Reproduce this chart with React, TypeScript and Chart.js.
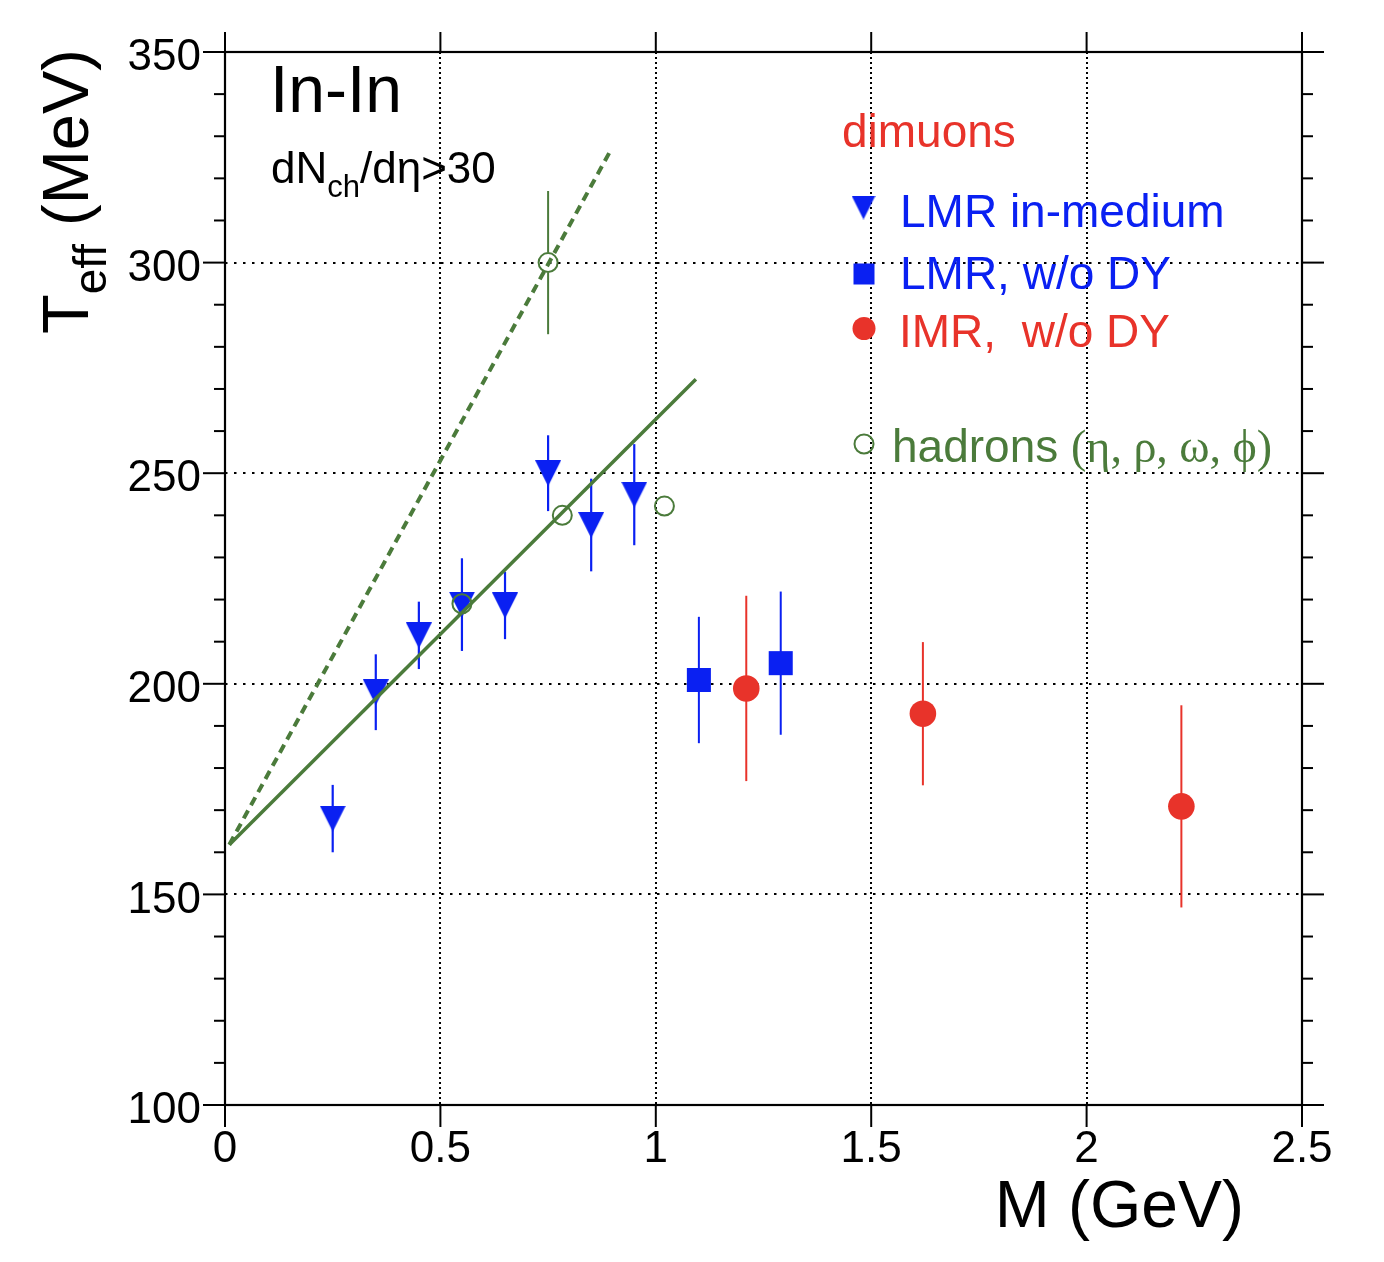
import React, { useEffect, useRef } from 'react';
import { Chart, registerables } from 'chart.js';

Chart.register(...registerables);

// dimuons, LMR in-medium (blue down-triangles)
const lmrMass = [0.25, 0.35, 0.45, 0.55, 0.65, 0.75, 0.85, 0.95];
const lmrTeff = [168, 198, 211.5, 218.8, 218.6, 250, 237.7, 244.9];
const lmrErr = [8, 9, 8, 11, 8, 9, 11, 12];

// dimuons, LMR w/o DY (blue squares)
const lmrNoDyMass = [1.1, 1.29];
const lmrNoDyTeff = [200.9, 204.9];
const lmrNoDyErr = [15, 17];

// dimuons, IMR w/o DY (red circles)
const imrMass = [1.21, 1.62, 2.22];
const imrTeff = [198.9, 192.9, 170.9];
const imrErr = [22, 17, 24];

// hadrons (open green circles)
const hadronMass = [0.55, 0.75, 0.783, 1.02];
const hadronTeff = [219, 300, 240, 242.2];
const hadronErr = [0, 17, 0, 0];

// the two straight lines
const fitMass = [0.01, 1.093];
const fitTeff = [161.8, 272.3];
const steepMass = [0.01, 0.895];
const steepTeff = [161.8, 326.6];

const xTicks = [0, 0.5, 1, 1.5, 2, 2.5];
const yTicks = [100, 150, 200, 250, 300, 350];
const yMinorStep = 10;

const BLUE = '#0a20f2';
const RED = '#e8332a';
const GREEN = '#4b7b3b';
const FONT = '"Liberation Sans", Arial, Helvetica, sans-serif';
const SERIF = '"Liberation Serif", "Times New Roman", serif';

const pts = (xs: number[], ys: number[]) => xs.map((x, i) => ({ x, y: ys[i] }));

function makeTriangle(size: number, color: string) {
  const c = document.createElement('canvas');
  c.width = size;
  c.height = size;
  const g = c.getContext('2d')!;
  g.fillStyle = color;
  g.beginPath();
  g.moveTo(0, 0);
  g.lineTo(size, 0);
  g.lineTo(size / 2, size);
  g.closePath();
  g.fill();
  return c;
}

type Run = { text: string; size: number; dy?: number; family?: string; color?: string };

function drawRuns(ctx: CanvasRenderingContext2D, x: number, y: number, runs: Run[]) {
  let cx = x;
  for (const r of runs) {
    ctx.font = `${r.size}px ${r.family || FONT}`;
    if (r.color) ctx.fillStyle = r.color;
    ctx.fillText(r.text, cx, y + (r.dy || 0));
    cx += ctx.measureText(r.text).width;
  }
}

function line(ctx: CanvasRenderingContext2D, x1: number, y1: number, x2: number, y2: number) {
  ctx.beginPath();
  ctx.moveTo(x1, y1);
  ctx.lineTo(x2, y2);
  ctx.stroke();
}

const errorBarPlugin = {
  id: 'errorBars',
  beforeDatasetsDraw(chart: any) {
    const { ctx, scales } = chart;
    chart.data.datasets.forEach((ds: any, i: number) => {
      if (!ds.errors) return;
      const meta = chart.getDatasetMeta(i);
      ctx.save();
      ctx.strokeStyle = ds.errorColor;
      ctx.lineWidth = ds.errorWidth || 2;
      meta.data.forEach((pt: any, j: number) => {
        const e = ds.errors[j];
        if (!e) return;
        const v = ds.data[j].y;
        const top = scales.y.getPixelForValue(v + e);
        const bot = scales.y.getPixelForValue(v - e);
        const gap = ds.errorGap || 0;
        line(ctx, pt.x, top, pt.x, pt.y - gap);
        line(ctx, pt.x, pt.y + gap, pt.x, bot);
      });
      ctx.restore();
    });
  },
};

const framePlugin = {
  id: 'rootFrame',
  afterDraw(chart: any) {
    const { ctx, chartArea: a, scales } = chart;
    ctx.save();
    ctx.strokeStyle = '#000';
    ctx.lineWidth = 2.2;
    ctx.strokeRect(a.left, a.top, a.right - a.left, a.bottom - a.top);
    ctx.lineWidth = 2;
    const yMin = yTicks[0];
    const yMax = yTicks[yTicks.length - 1];
    for (let v = yMin; v <= yMax + 0.01; v += yMinorStep) {
      const py = scales.y.getPixelForValue(v);
      const len = yTicks.includes(v) ? 22 : 11;
      line(ctx, a.left - len, py, a.left, py);
      line(ctx, a.right, py, a.right + len, py);
    }
    for (const v of xTicks) {
      const px = scales.x.getPixelForValue(v);
      line(ctx, px, a.bottom, px, a.bottom + 22);
      line(ctx, px, a.top - 20, px, a.top);
    }
    ctx.restore();

    // annotations
    ctx.save();
    ctx.fillStyle = '#000';
    ctx.textBaseline = 'alphabetic';
    ctx.textAlign = 'left';
    ctx.font = `66px ${FONT}`;
    ctx.fillText('In-In', 270, 112);
    drawRuns(ctx, 271, 183, [
      { text: 'dN', size: 44 },
      { text: 'ch', size: 31, dy: 14 },
      { text: '/dη>30', size: 44 },
    ]);

    // axis titles
    ctx.textAlign = 'right';
    ctx.font = `66px ${FONT}`;
    ctx.fillText('M (GeV)', 1244, 1227);
    ctx.textAlign = 'left';
    ctx.save();
    ctx.translate(88, 334);
    ctx.rotate(-Math.PI / 2);
    drawRuns(ctx, 0, 0, [
      { text: 'T', size: 65 },
      { text: 'eff', size: 46, dy: 18 },
      { text: ' (MeV)', size: 65 },
    ]);
    ctx.restore();

    // legend
    ctx.fillStyle = RED;
    ctx.font = `46px ${FONT}`;
    ctx.fillText('dimuons', 842, 147);

    ctx.drawImage(makeTriangle(24, BLUE), 851.5, 195.5, 24, 24);
    ctx.fillStyle = BLUE;
    ctx.fillText('LMR in-medium', 900, 227);

    ctx.fillRect(853.5, 263.5, 21, 21);
    ctx.fillText('LMR, w/o DY', 900, 289);

    ctx.fillStyle = RED;
    ctx.beginPath();
    ctx.arc(864, 328.5, 11.5, 0, Math.PI * 2);
    ctx.fill();
    ctx.fillText('IMR,  w/o DY', 899, 347);

    ctx.strokeStyle = GREEN;
    ctx.lineWidth = 2;
    ctx.beginPath();
    ctx.arc(864, 444, 9.5, 0, Math.PI * 2);
    ctx.stroke();
    drawRuns(ctx, 892, 462, [
      { text: 'hadrons ', size: 46, color: GREEN },
      { text: '(η, ρ, ω, ϕ)', size: 46, family: SERIF },
    ]);
    ctx.restore();
  },
};

const TeffChart: React.FC = () => {
  const canvasRef = useRef<HTMLCanvasElement | null>(null);

  useEffect(() => {
    const canvas = canvasRef.current;
    if (!canvas) return;

    const triangle = makeTriangle(26, BLUE);

    const chart = new Chart(canvas, {
      type: 'scatter',
      data: {
        datasets: [
          {
            label: 'hadrons',
            data: pts(hadronMass, hadronTeff),
            errors: hadronErr,
            errorColor: GREEN,
            errorWidth: 2,
            errorGap: 10,
            pointStyle: 'circle',
            pointRadius: 9.5,
            pointBorderWidth: 2,
            pointBorderColor: GREEN,
            pointBackgroundColor: 'rgba(0,0,0,0)',
            order: 1,
          },
          {
            label: 'fit',
            data: pts(fitMass, fitTeff),
            showLine: true,
            borderColor: GREEN,
            borderWidth: 3.5,
            pointRadius: 0,
            order: 2,
          },
          {
            label: 'steep',
            data: pts(steepMass, steepTeff),
            showLine: true,
            borderColor: GREEN,
            borderWidth: 4,
            borderDash: [9, 6],
            pointRadius: 0,
            order: 2,
          },
          {
            label: 'IMR, w/o DY',
            data: pts(imrMass, imrTeff),
            errors: imrErr,
            errorColor: RED,
            errorWidth: 2,
            pointStyle: 'circle',
            pointRadius: 13.3,
            pointBorderWidth: 0,
            pointBackgroundColor: RED,
            order: 3,
          },
          {
            label: 'LMR, w/o DY',
            data: pts(lmrNoDyMass, lmrNoDyTeff),
            errors: lmrNoDyErr,
            errorColor: BLUE,
            errorWidth: 2,
            pointStyle: 'rect',
            pointRadius: 17,
            pointBorderWidth: 0,
            pointBackgroundColor: BLUE,
            order: 4,
          },
          {
            label: 'LMR in-medium',
            data: pts(lmrMass, lmrTeff),
            errors: lmrErr,
            errorColor: BLUE,
            errorWidth: 2.2,
            pointStyle: triangle,
            pointRadius: 13,
            pointBorderWidth: 0,
            order: 5,
          },
        ] as any,
      },
      options: {
        animation: false,
        responsive: false,
        events: [],
        layout: { padding: { top: 52, right: 82, bottom: 100, left: 0 } },
        plugins: {
          legend: { display: false },
          tooltip: { enabled: false },
        },
        scales: {
          x: {
            type: 'linear',
            min: 0,
            max: 2.5,
            afterBuildTicks: (s: any) => {
              s.ticks = xTicks.map((v) => ({ value: v }));
            },
            afterFit: (s: any) => {
              s.height = 57;
            },
            grid: { color: '#000', lineWidth: 2, drawTicks: false },
            border: { display: false, dash: [2, 3] },
            ticks: {
              padding: 18,
              color: '#000',
              font: { family: FONT, size: 44 },
              maxRotation: 0,
              autoSkip: false,
              callback: (v: any) => String(v),
            },
          },
          y: {
            type: 'linear',
            min: 100,
            max: 350,
            afterBuildTicks: (s: any) => {
              s.ticks = yTicks.map((v) => ({ value: v }));
            },
            afterFit: (s: any) => {
              s.width = 225;
            },
            grid: { color: '#000', lineWidth: 2, drawTicks: false },
            border: { display: false, dash: [2.5, 6.5] },
            ticks: {
              padding: 24,
              labelOffset: 6,
              color: '#000',
              font: { family: FONT, size: 44 },
              autoSkip: false,
              callback: (v: any) => String(v),
            },
          },
        },
      } as any,
      plugins: [errorBarPlugin, framePlugin],
    });

    return () => {
      chart.destroy();
    };
  }, []);

  return <canvas ref={canvasRef} width={1384} height={1262} style={{ display: 'block' }} />;
};

export default function App() {
  return (
    <div style={{ position: 'absolute', left: 0, top: 0, width: 1384, height: 1262, background: '#fff' }}>
      <TeffChart />
    </div>
  );
}
